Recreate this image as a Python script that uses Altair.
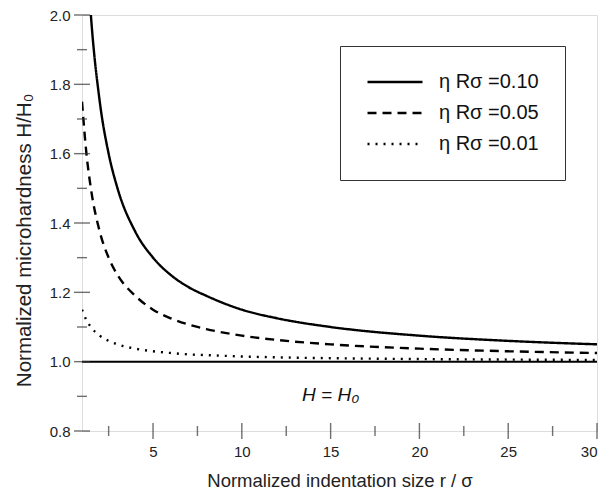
import altair as alt
import pandas as pd

# r/sigma sample positions
r_vals = [1.0, 1.25, 1.5, 2.0, 2.5, 3.0, 4.0, 5.0, 6.0, 7.0, 8.0, 10.0, 12.0, 15.0, 20.0, 25.0, 30.0]
# H/H0
h_010 = [2.50, 2.20, 2.00, 1.75, 1.60, 1.50, 1.375, 1.30, 1.25, 1.215, 1.19, 1.15, 1.125, 1.10, 1.075, 1.06, 1.05]
h_005 = [1.75, 1.60, 1.50, 1.375, 1.30, 1.25, 1.19, 1.15, 1.125, 1.107, 1.094, 1.075, 1.0625, 1.05, 1.0375, 1.03, 1.025]
h_001 = [1.15, 1.12, 1.10, 1.075, 1.06, 1.05, 1.0375, 1.03, 1.025, 1.021, 1.019, 1.015, 1.0125, 1.01, 1.0075, 1.006, 1.005]
series_labels = ["\u03b7 R\u03c3 =0.10", "\u03b7 R\u03c3 =0.05", "\u03b7 R\u03c3 =0.01"]

x_major = [5, 10, 15, 20, 25, 30]
x_minor = [2.5, 7.5, 12.5, 17.5, 22.5, 27.5]
y_major = [0.8, 1.0, 1.2, 1.4, 1.6, 1.8, 2.0]
y_minor = [0.9, 1.1, 1.3, 1.5, 1.7, 1.9]

rows = []
for lab, hs in zip(series_labels, [h_010, h_005, h_001]):
    for r, h in zip(r_vals, hs):
        rows.append({"r": r, "h": h, "series": lab})
df = pd.DataFrame(rows)

W, H = 515, 416
FONT = "Liberation Sans"
xscale = alt.Scale(domain=[1, 30], nice=False, zero=False)
yscale = alt.Scale(domain=[0.8, 2.0], nice=False, zero=False)

X = alt.X("r:Q", scale=xscale,
          axis=alt.Axis(title="Normalized indentation size  r / \u03c3", values=x_major, ticks=False,
                        domain=False, grid=False, labelFontSize=15, labelFont=FONT, labelColor="#222",
                        labelPadding=13, titleFont=FONT, titleFontSize=18.5, titleFontWeight="normal",
                        titleColor="#222", titlePadding=12))
Y = alt.Y("h:Q", scale=yscale,
          axis=alt.Axis(title="Normalized microhardness H/H\u2080", values=y_major, format=".1f",
                        ticks=False, domain=False, grid=False, labelFontSize=15, labelFont=FONT,
                        labelColor="#222", labelPadding=12, titleFont=FONT, titleFontSize=20.5,
                        titleFontWeight="normal", titleColor="#222", titlePadding=15, titleY=225))

curves = alt.Chart(df).mark_line(color="black", strokeWidth=2.4, clip=True, interpolate="monotone").encode(
    x=X, y=Y,
    strokeDash=alt.StrokeDash("series:N",
        scale=alt.Scale(domain=series_labels, range=[[1, 0], [9, 6], [2, 6]]),
        legend=alt.Legend(title=None, orient="none", legendX=258, legendY=31, strokeColor="#333",
                          padding=26, symbolType="stroke", symbolSize=3025, symbolStrokeWidth=2.4,
                          symbolStrokeColor="black", labelFontSize=20, labelFont=FONT,
                          labelColor="#111", labelOffset=15, rowPadding=11, clipHeight=20,
                          fillColor="white")),
)

base_df = pd.DataFrame({"r": [1, 30], "h": [1.0, 1.0]})
baseline = alt.Chart(base_df).mark_line(color="black", strokeWidth=2).encode(x=X, y=Y)

label_df = pd.DataFrame({"r": [15], "h": [0.905], "t": ["H = H\u2080"]})
label = alt.Chart(label_df).mark_text(font=FONT, fontSize=19, fontStyle="italic", color="#111").encode(
    x=X, y=Y, text="t:N")

def yticks(vals, size):
    return alt.Chart(pd.DataFrame({"h": vals})).mark_tick(orient="horizontal", size=size, thickness=1.4,
                                                          color="#333").encode(y=Y, x=alt.value(0))

def xticks(vals, size):
    return alt.Chart(pd.DataFrame({"r": vals})).mark_tick(orient="vertical", size=size, thickness=1.4,
                                                          color="#333").encode(x=X, y=alt.value(H))

chart = alt.layer(
    curves, baseline, label,
    yticks(y_major, 16), yticks(y_minor, 10), xticks(x_major, 16), xticks(x_minor, 10),
).properties(
    width=W, height=H, autosize=alt.AutoSizeParams(type="none"),
    padding={"left": 74, "top": 7, "right": 1, "bottom": 65},
).configure_view(stroke="#333", strokeWidth=1.4).configure(background="white")

chart.save("out.html", embed_options={"renderer": "svg", "actions": False})
